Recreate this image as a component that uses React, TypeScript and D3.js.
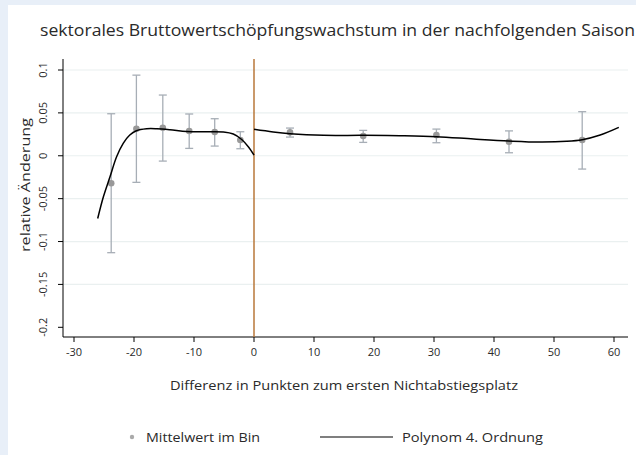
import * as d3 from "d3";

// gebinnte Mittelwerte mit Konfidenzintervallen
const binX = [-23.8, -19.6, -15.2, -10.8, -6.55, -2.28, 6.0, 18.2, 30.4, 42.5, 54.7];
const binMean = [-0.032, 0.0315, 0.0327, 0.0288, 0.0277, 0.0183, 0.0273, 0.023, 0.0241, 0.0163, 0.0183];
const ciLow = [-0.113, -0.031, -0.0062, 0.0086, 0.0113, 0.0082, 0.0218, 0.0156, 0.0152, 0.0035, -0.0155];
const ciHigh = [0.049, 0.094, 0.0708, 0.0487, 0.0432, 0.028, 0.0323, 0.0296, 0.0311, 0.029, 0.0514];

// Polynom 4. Ordnung, links und rechts der Schwelle
const fitLeftX = [-26.05, -25.1, -24.0, -22.9, -21.8, -20.7, -19.6, -17.9, -16.2, -14.0, -11.2, -7.9, -5.1, -3.45, -2.05, -0.95, 0];
const fitLeftY = [-0.0731, -0.0478, -0.0245, -0.0012, 0.0145, 0.0242, 0.0292, 0.0315, 0.0315, 0.0304, 0.0284, 0.028, 0.0277, 0.0253, 0.019, 0.0105, 0.0008];
const fitRightX = [0, 3.2, 6.0, 11.6, 18.2, 24.3, 30.4, 36.6, 42.5, 47.7, 52.1, 54.7, 57.7, 60.8];
const fitRightY = [0.0308, 0.0277, 0.0257, 0.0238, 0.0238, 0.0233, 0.0222, 0.0195, 0.0172, 0.016, 0.0168, 0.0187, 0.0242, 0.0331];

const xTicks = [-30, -20, -10, 0, 10, 20, 30, 40, 50, 60];
const yTicks = [0.1, 0.05, 0, -0.05, -0.1, -0.15, -0.2];
const yTickLabels = ["0.1", "0.05", "0", "-0.05", "-0.1", "-0.15", "-0.2"];
const yGrid = [0.1, 0.05, 0, -0.05, -0.1, -0.15];

const W = 636;
const H = 455;
const plot = { left: 63, right: 628, top: 59, bottom: 337 };
const font = "'Open Sans', Lato, sans-serif";

const App = () => {
  const x = d3.scaleLinear().domain([-30, 60]).range([74, 614]);
  const y = d3.scaleLinear().domain([-0.2, 0.1]).range([327.3, 70]);

  const linie = d3
    .line<[number, number]>()
    .x((d) => x(d[0]))
    .y((d) => y(d[1]))
    .curve(d3.curveCatmullRom.alpha(0.5));

  const links = linie(fitLeftX.map((v, i) => [v, fitLeftY[i]]));
  const rechts = linie(fitRightX.map((v, i) => [v, fitRightY[i]]));

  const grau = "#a7aeb6";
  const textFarbe = "#2a2a2a";

  return (
    <svg
      width={W}
      height={H}
      style={{ position: "absolute", left: 0, top: 0, fontFamily: font }}
    >
      <rect width={W} height={H} fill="#e8eff8" />
      <rect x={8} y={5} width={W - 8} height={H - 5} fill="#fff" />

      <text x={40} y={36} fontSize={16.5} fill={textFarbe} textLength={595} lengthAdjust="spacingAndGlyphs">
        sektorales Bruttowertschöpfungswachstum in der nachfolgenden Saison
      </text>

      {/* Gitterlinien */}
      {yGrid.map((t) => (
        <line
          key={"g" + t}
          x1={plot.left}
          x2={plot.right}
          y1={y(t)}
          y2={y(t)}
          stroke="#eaf0f0"
          strokeWidth={1.2}
        />
      ))}

      {/* Achsen */}
      <line x1={plot.left} x2={plot.left} y1={plot.top} y2={plot.bottom} stroke="#000" />
      <line x1={plot.left} x2={plot.right} y1={plot.bottom} y2={plot.bottom} stroke="#000" />

      {yTicks.map((t, i) => (
        <g key={"y" + t}>
          <line x1={plot.left - 5} x2={plot.left} y1={y(t)} y2={y(t)} stroke="#000" />
          <text
            transform={`translate(47,${y(t)}) rotate(-90)`}
            textAnchor="middle"
            fontSize={11}
            fill={textFarbe}
          >
            {yTickLabels[i]}
          </text>
        </g>
      ))}

      {xTicks.map((t) => (
        <g key={"x" + t}>
          <line x1={x(t)} x2={x(t)} y1={plot.bottom} y2={plot.bottom + 5} stroke="#000" />
          <text x={x(t)} y={356} textAnchor="middle" fontSize={11} fill={textFarbe}>
            {t}
          </text>
        </g>
      ))}

      <text
        transform={`translate(30,185) rotate(-90)`}
        textAnchor="middle"
        fontSize={13.5}
        fill={textFarbe}
        textLength={134}
        lengthAdjust="spacingAndGlyphs"
      >
        relative Änderung
      </text>
      <text
        x={344}
        y={390}
        textAnchor="middle"
        fontSize={13}
        fill={textFarbe}
        textLength={348}
        lengthAdjust="spacingAndGlyphs"
      >
        Differenz in Punkten zum ersten Nichtabstiegsplatz
      </text>

      {/* Fehlerbalken */}
      {binX.map((v, i) => (
        <g key={"e" + i} stroke={grau} strokeWidth={1.3}>
          <line x1={x(v)} x2={x(v)} y1={y(ciLow[i])} y2={y(ciHigh[i])} />
          <line x1={x(v) - 4} x2={x(v) + 4} y1={y(ciLow[i])} y2={y(ciLow[i])} />
          <line x1={x(v) - 4} x2={x(v) + 4} y1={y(ciHigh[i])} y2={y(ciHigh[i])} />
        </g>
      ))}
      {binX.map((v, i) => (
        <circle key={"p" + i} cx={x(v)} cy={y(binMean[i])} r={3.3} fill="#999" />
      ))}

      {/* Schwelle */}
      <line x1={x(0)} x2={x(0)} y1={plot.top} y2={plot.bottom} stroke="#b8773a" strokeWidth={1.5} />

      <path d={links ?? ""} fill="none" stroke="#000" strokeWidth={1.5} />
      <path d={rechts ?? ""} fill="none" stroke="#000" strokeWidth={1.5} />

      {/* Legende */}
      <circle cx={132} cy={437} r={2.2} fill="#aaa" />
      <text x={146} y={441.5} fontSize={13} fill={textFarbe} textLength={114} lengthAdjust="spacingAndGlyphs">
        Mittelwert im Bin
      </text>
      <line x1={320} x2={393} y1={437} y2={437} stroke="#000" strokeWidth={1.2} />
      <text x={402} y={441.5} fontSize={13} fill={textFarbe} textLength={141} lengthAdjust="spacingAndGlyphs">
        Polynom 4. Ordnung
      </text>
    </svg>
  );
};

export default App;
